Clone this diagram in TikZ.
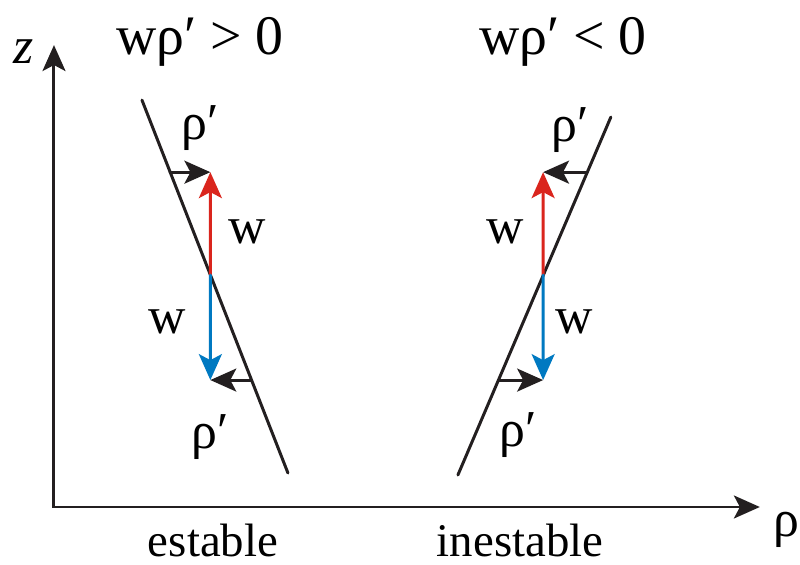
\documentclass[tikz,border=0pt]{standalone}
\usepackage{tikz}
\usetikzlibrary{calc, intersections, arrows.meta}
\usepackage{tkz-euclide}
\usepackage{xcolor}
\usepackage{fontspec}
\setmainfont{Liberation Serif}
\newfontfamily\romana{Liberation Serif}
\definecolor{upred}{RGB}{218,37,29}
\definecolor{downblue}{RGB}{0,121,193}
\definecolor{ink}{RGB}{35,31,32}
\tikzset{
  flecha/.style={line width=1.5pt, -{Stealth[length=13pt, width=11.5pt, inset=3pt]}},
  axis/.style={ink, line width=1.5pt, {Stealth[length=13pt, width=11.5pt, inset=3pt]}-{Stealth[length=13pt, width=11.5pt, inset=3pt]}},
  lbl/.style={font=\romana\fontsize{26}{30}\selectfont, inner sep=0pt},
  titulo/.style={font=\romana\fontsize{28}{32}\selectfont, inner sep=0pt, anchor=base},
  pie/.style={font=\romana\fontsize{23.5}{28}\selectfont, inner sep=0pt, anchor=base}
}

\begin{document}
\begin{tikzpicture}[scale=1.7638]
            \useasboundingbox (0,0) rectangle (8,5.65);
            \tkzDefPoints{0.54/0.58/O, 0.54/5.20/Z, 7.60/0.58/R}
            \tkzDefPoints{1.42/4.65/A, 2.88/0.92/B, 4.58/0.90/C, 6.11/4.48/D}
            \tkzDefPoints{0/3.93/H1, 8/3.93/H2, 0/2.90/M1, 8/2.90/M2, 0/1.85/L1, 8/1.85/L2}
            \tkzInterLL(A,B)(M1,M2) \tkzGetPoint{P}
            \tkzInterLL(C,D)(M1,M2) \tkzGetPoint{Q}
            \tkzInterLL(A,B)(H1,H2) \tkzGetPoint{Pa}
            \tkzInterLL(A,B)(L1,L2) \tkzGetPoint{Pb}
            \tkzInterLL(C,D)(H1,H2) \tkzGetPoint{Qa}
            \tkzInterLL(C,D)(L1,L2) \tkzGetPoint{Qb}
            \tkzDefPointBy[projection=onto H1--H2](P) \tkzGetPoint{Pu}
            \tkzDefPointBy[projection=onto L1--L2](P) \tkzGetPoint{Pd}
            \tkzDefPointBy[projection=onto H1--H2](Q) \tkzGetPoint{Qu}
            \tkzDefPointBy[projection=onto L1--L2](Q) \tkzGetPoint{Qd}
            \draw[axis] (Z) -- (O) -- (R);
            \tkzDrawSegments[ink, line width=1.5pt](A,B C,D)
            \tkzDrawSegments[flecha, upred](P,Pu Q,Qu)
            \tkzDrawSegments[flecha, downblue](P,Pd Q,Qd)
            \tkzDrawSegments[flecha, ink](Pa,Pu Qa,Qu Pb,Pd Qb,Qd)
            \node[lbl] (zlab) at (0.24,5.13) {\textit{z}};
            \node[lbl] (rholab) at (7.86,0.355) {ρ};
            \node[titulo] (titL) at (2.00,5.10) {wρ′ > 0};
            \node[titulo] (titR) at (5.63,5.10) {wρ′ < 0};
            \node[lbl] (rhoLa) at (2.00,4.37) {ρ′};
            \node[lbl] (wLa) at (2.47,3.33) {w};
            \node[lbl] (wLb) at (1.67,2.43) {w};
            \node[lbl] (rhoLb) at (2.10,1.28) {ρ′};
            \node[lbl] (rhoRa) at (5.70,4.35) {ρ′};
            \node[lbl] (wRa) at (5.05,3.33) {w};
            \node[lbl] (wRb) at (5.74,2.43) {w};
            \node[lbl] (rhoRb) at (5.18,1.30) {ρ′};
            \node[pie] (est) at (2.13,0.08) {estable};
            \node[pie] (inest) at (5.20,0.08) {inestable};
        \end{tikzpicture}
\end{document}
